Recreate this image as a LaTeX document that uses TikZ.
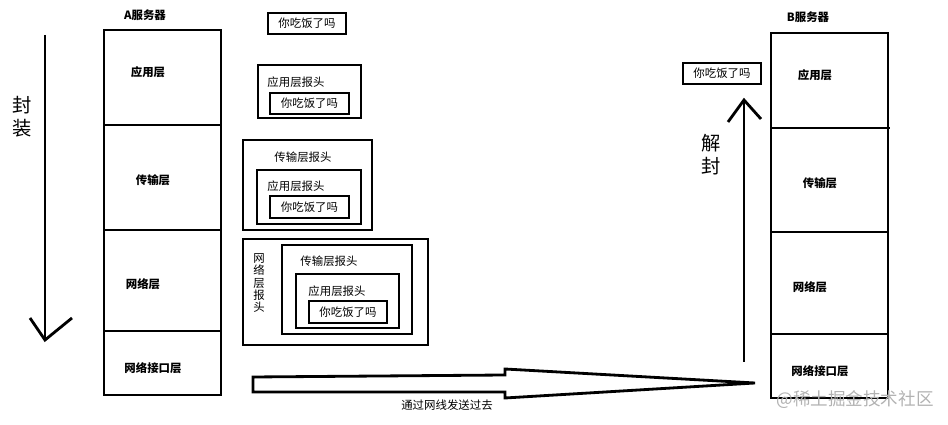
\documentclass[tikz,border=0pt]{standalone}
\usepackage{fontspec}
\setmainfont{Noto Sans CJK SC}
\usetikzlibrary{positioning}
\begin{document}
\begin{tikzpicture}[x=0.02cm,y=-0.02cm,line width=1.6pt]
\tikzstyle{msg}=[draw, inner sep=0pt, font=\fontsize{6.5}{7}\selectfont]
\tikzstyle{lay}=[font=\bfseries\fontsize{6.5}{7}\selectfont]
\tikzstyle{hdr}=[font=\fontsize{6.5}{7}\selectfont]
\tikzstyle{big}=[font=\fontsize{11}{13}\selectfont, align=center]
\tikzstyle{frame}=[draw]
\useasboundingbox (0,0) rectangle (948,425);
% A stack
\draw (104,30) rectangle (221,395);
\draw (104,125) -- (222,125);
\draw (104,230) -- (221,230);
\draw (104,331) -- (221,331);
\node (aname) [lay] at (145,15) {A服务器};
\node (aapp) [lay] at (148,72) {应用层};
\node (atrans) [lay] at (153,180) {传输层};
\node (anet) [lay] at (143,284) {网络层};
\node (alink) [lay] at (153,368) {网络接口层};
% encapsulation arrow
\coordinate (dtop) at (45,35);
\coordinate (dbot) at (45,340);
\draw (dtop) -- (dbot);
\draw (30,318) -- (dbot) -- (72,318);
\node (encap) [big] at (22,117) {封\\装};
% packets
\draw (268,13) rectangle (346,34); \node (m1) [hdr] at (307,23.5) {你吃饭了吗};
\draw (258,65) rectangle (361,118); \node (h2) [hdr] at (296,82) {应用层报头};
\draw (270,93) rectangle (349,114); \node (m2) [hdr] at (309.5,103.5) {你吃饭了吗};
\draw (243,140) rectangle (372,230); \node (h3t) [hdr] at (303,157) {传输层报头};
\draw (257,170) rectangle (361,224); \node (h3a) [hdr] at (296,186) {应用层报头};
\draw (270,196) rectangle (349,218); \node (m3) [hdr] at (309.5,207) {你吃饭了吗};
\draw (243,239) rectangle (428,345);
\node (h4n) [hdr, align=center] at (259,283) {网\\络\\层\\报\\头};
\draw (282,245) rectangle (412,334); \node (h4t) [hdr] at (329,261) {传输层报头};
\draw (296,274) rectangle (399,328); \node (h4a) [hdr] at (337,291) {应用层报头};
\draw (309,301) rectangle (387,323); \node (m4) [hdr] at (348,312) {你吃饭了吗};
% wire
\draw (253,377) -- (505,375) -- (505,369) -- (755,383) -- (505,398) -- (505,392) -- (253,392) -- cycle;
\node (wire) [hdr] at (447,405) {通过网线发送过去};
% B stack
\draw (771,33) rectangle (888,398);
\draw (771,128) -- (890,128);
\draw (771,232) -- (888,232);
\draw (771,334) -- (888,334);
\node (bname) [lay] at (808,17) {B服务器};
\node (bapp) [lay] at (815,75) {应用层};
\node (btrans) [lay] at (820,183) {传输层};
\node (bnet) [lay] at (810,287) {网络层};
\node (blink) [lay] at (820,371) {网络接口层};
% decapsulation arrow
\coordinate (ubot) at (744,362);
\coordinate (utop) at (744,100);
\draw (ubot) -- (utop);
\draw (728,122) -- (utop) -- (761,119);
\node (decap) [big] at (711,155) {解\\封};
\draw (683,63) rectangle (761,84); \node (m5) [hdr] at (722,73.5) {你吃饭了吗};
\node (mark) [text=black!30, font=\fontsize{10}{12}\selectfont] at (855,400) {@稀土掘金技术社区};
\end{tikzpicture}
\end{document}
